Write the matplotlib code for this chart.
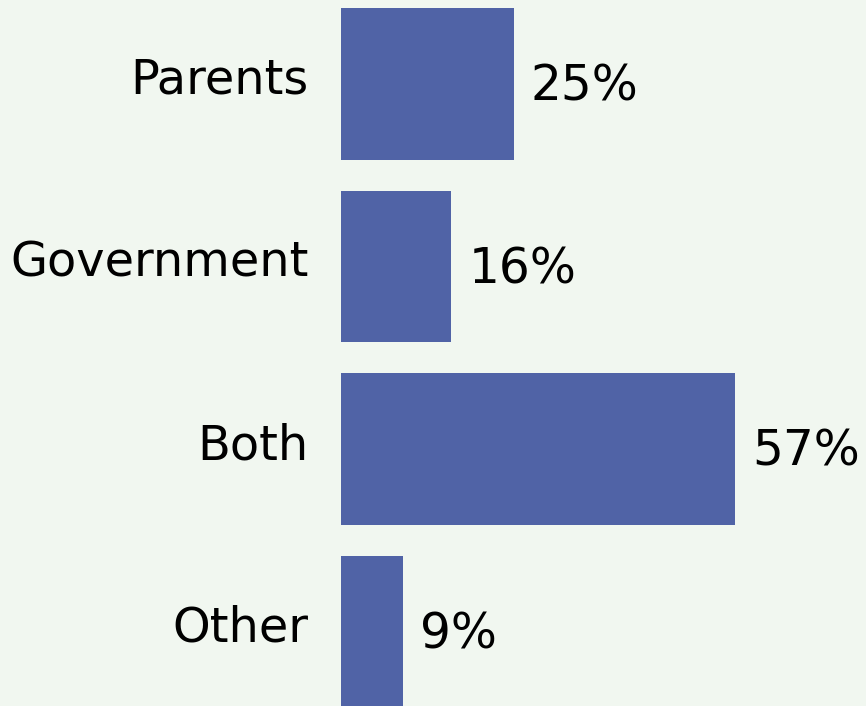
import matplotlib.pyplot as plt

categories = ["Parents", "Government", "Both", "Other"]
shares = [25, 16, 57, 9]

BG = "#f1f7f0"
BAR = "#5063a6"

fig = plt.figure(figsize=(8.66, 7.06), dpi=100, facecolor=BG)
# axes starts where the bars start; labels sit in the left margin
ax = fig.add_axes([340.5 / 866, 0, 1 - 340.5 / 866, 1])
ax.set_facecolor(BG)

ypos = list(range(len(categories)))
ax.barh(ypos, shares, height=0.83, color=BAR)

for y, name, v in zip(ypos, categories, shares):
    # category name left of the bar, value right of it
    ax.annotate(name, (0, y), xytext=(-23, 2.5), textcoords="offset points",
                va="center", ha="right", fontsize=34.5, color="black",
                annotation_clip=False)
    ax.annotate(f"{v}%", (v, y), xytext=(12.5, -2), textcoords="offset points",
                va="center", ha="left", fontsize=35, color="black")

ax.set_xticks([])
ax.set_yticks([])
ax.set_xlim(0, 75.9)
ax.set_ylim(3.408, -0.46)
for s in ax.spines.values():
    s.set_visible(False)

fig.savefig("out.png", dpi=100, facecolor=BG)
